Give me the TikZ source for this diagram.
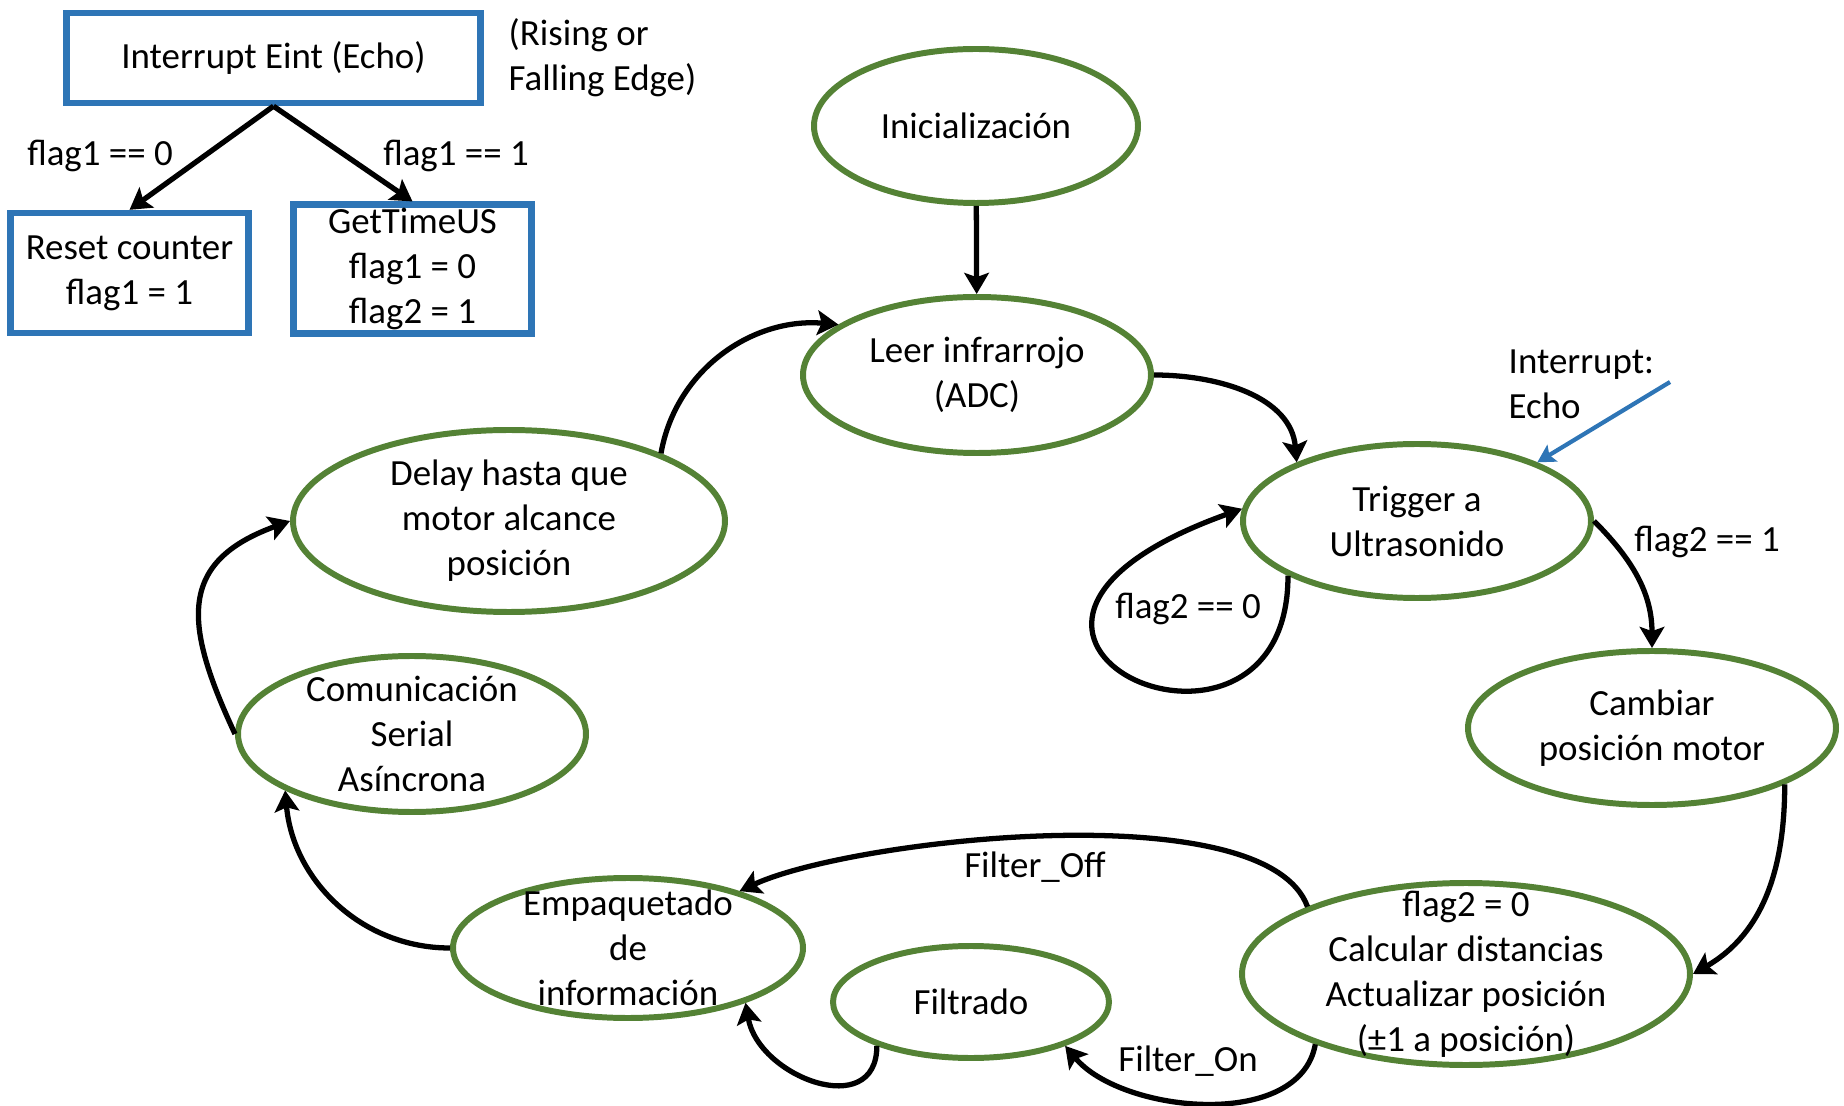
\documentclass[tikz,border=0pt]{standalone}
\usepackage{fontspec}
\setmainfont{Carlito}
\usepackage{tikz}
\usetikzlibrary{shapes.geometric}
\usetikzlibrary{arrows.meta}

\definecolor{azulcaja}{RGB}{46,117,182}
\definecolor{verdeestado}{RGB}{84,130,53}

\begin{document}
\begin{tikzpicture}[
        font=\fontsize{10.5}{12.8}\selectfont,
        estado/.style={ellipse, draw=verdeestado, line width=1.7pt, inner sep=0pt},
        caja/.style={rectangle, draw=azulcaja, line width=1.8pt, align=center, inner sep=1pt},
        flecha/.style={-{Stealth[length=6pt,width=7pt,inset=1.2pt]}, line width=1.5pt},
        flechaazul/.style={-{Stealth[length=5pt,width=5.5pt,inset=1pt]}, line width=1.2pt, draw=azulcaja},
        texto/.style={align=center, inner sep=0pt}
    ]
        \useasboundingbox (0,0) rectangle (18.44,-11.06);

        % interrupcion externa
        \node[caja, minimum width=4.14cm, minimum height=0.90cm] (intr) at (2.735,-0.58) {Interrupt Eint (Echo)};
        \node[caja, minimum width=2.38cm, minimum height=1.20cm] (reset) at (1.295,-2.73) {Reset counter\\flag1 = 1};
        \node[caja, minimum width=2.38cm, minimum height=1.22cm] (gett) at (4.125,-2.69) {GetTimeUS\\flag1 = 0\\flag2 = 1};
        \node[texto, align=left, anchor=west] (edge) at (5.08,-0.575) {(Rising or\\Falling Edge)};
        \draw[flecha] (intr.south) -- (reset.north);
        \draw[flecha] (intr.south) -- (gett.north);
        \node[texto] (f10) at (1.00,-1.56) {flag1 == 0};
        \node[texto] (f11) at (4.56,-1.56) {flag1 == 1};

        % estados
        \node[estado, minimum width=3.24cm, minimum height=1.54cm, label={[texto]center:Inicialización}] (ini) at (9.76,-1.26) {};
        \node[estado, minimum width=3.48cm, minimum height=1.56cm, label={[texto]center:{Leer infrarrojo\\(ADC)}}] (leer) at (9.77,-3.75) {};
        \node[estado, minimum width=3.48cm, minimum height=1.54cm, label={[texto]center:{Trigger a\\Ultrasonido}}] (trig) at (14.17,-5.21) {};
        \node[estado, minimum width=3.68cm, minimum height=1.54cm, label={[texto]center:{Cambiar\\posición motor}}] (camb) at (16.52,-7.28) {};
        \node[estado, minimum width=4.48cm, minimum height=1.82cm, label={[texto]center:{flag2 = 0\\Calcular distancias\\Actualizar posición\\(±1 a posición)}}] (calc) at (14.66,-9.74) {};
        \node[estado, minimum width=2.76cm, minimum height=1.12cm, label={[texto]center:Filtrado}] (filt) at (9.71,-10.02) {};
        \node[estado, minimum width=3.50cm, minimum height=1.40cm, label={[texto]center:{Empaquetado\\de\\información}}] (emp) at (6.28,-9.48) {};
        \node[estado, minimum width=3.48cm, minimum height=1.56cm, label={[texto]center:{Comunicación\\Serial\\Asíncrona}}] (com) at (4.12,-7.34) {};
        \node[estado, minimum width=4.32cm, minimum height=1.82cm, label={[texto]center:{Delay hasta que\\motor alcance\\posición}}] (delay) at (5.09,-5.21) {};

        \node[texto, align=left, anchor=west] (echo) at (15.08,-3.845) {Interrupt:\\Echo};
        \coordinate (eco) at (16.70,-3.82);
        \draw[flechaazul] (eco) -- (trig.26);

        % transiciones
        \draw[flecha] (ini) -- (leer);
        \draw[flecha] (leer.east) to[out=0,in=95] (trig.154);
        \draw[flecha] (trig.203) .. controls (12.88,-8.1) and (8.9,-6.35) .. (trig.176);
        \node[texto] (f20) at (11.88,-6.09) {flag2 == 0};
        \draw[flecha] (trig.east) to[out=-45,in=90] (camb.north);
        \node[texto] (f21) at (17.07,-5.42) {flag2 == 1};
        \draw[flecha] (camb.337) to[out=-90,in=30] (calc.east);
        \draw[flecha] (calc.157) to[out=110,in=25,looseness=0.55] (emp.27);
        \node[texto] (foff) at (10.35,-8.67) {Filter\_Off};
        \draw[flecha] (calc.205) to[out=-100,in=-50,looseness=0.9] (filt.335);
        \node[texto] (fon) at (11.88,-10.61) {Filter\_On};
        \draw[flecha] (filt.205) to[out=-90,in=-80,looseness=1.4] (emp.335);
        \draw[flecha] (emp.west) to[out=180,in=-85] (com.204);
        \draw[flecha] (com.west) to[out=115,in=200,looseness=1.4] (delay.west);
        \draw[flecha] (delay.24) to[out=80,in=175] (leer.160);

    \end{tikzpicture}
\end{document}
